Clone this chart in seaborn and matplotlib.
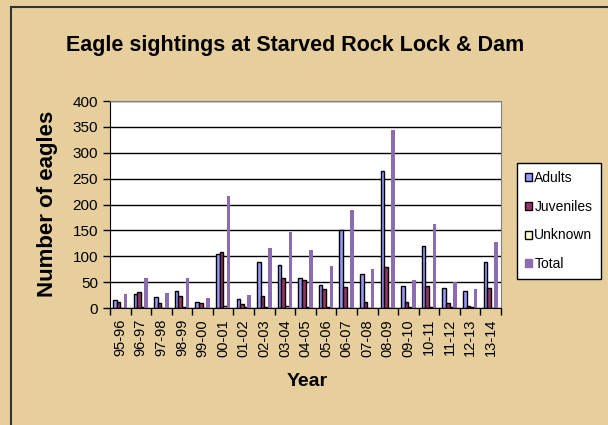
import numpy as np
import pandas as pd
import seaborn as sns
import matplotlib.pyplot as plt
from matplotlib.patches import Patch
from matplotlib.lines import Line2D

# --------------------------------------------------
# DATA
# --------------------------------------------------
years = ['95-96', '96-97', '97-98', '98-99', '99-00', '00-01', '01-02',
         '02-03', '03-04', '04-05', '05-06', '06-07', '07-08', '08-09',
         '09-10', '10-11', '11-12', '12-13', '13-14']
adults = [15, 28, 21, 33, 12, 104, 17, 89, 84, 58, 44, 150, 66, 265, 42, 120, 39, 32, 89]
juveniles = [11, 30, 10, 24, 10, 109, 7, 24, 58, 55, 37, 40, 12, 80, 12, 42, 10, 4, 39]
unknown = [0, 1, 0, 1, 0, 4, 2, 2, 4, 1, 1, 0, 0, 0, 1, 1, 1, 1, 0]
total = [27, 58, 29, 58, 20, 217, 26, 116, 146, 112, 82, 190, 76, 343, 55, 163, 50, 37, 127]

series = ['Adults', 'Juveniles', 'Unknown', 'Total']
colors = {'Adults': '#9999FF', 'Juveniles': '#993366',
          'Unknown': '#FFFFCC', 'Total': '#8C6BB1'}
y_ticks = [0, 50, 100, 150, 200, 250, 300, 350, 400]

df = pd.DataFrame({'Year': years, 'Adults': adults, 'Juveniles': juveniles,
                   'Unknown': unknown, 'Total': total})
long_df = df.melt(id_vars='Year', var_name='Series', value_name='Eagles')

# --------------------------------------------------
# PLOT
# --------------------------------------------------
plt.rcParams['font.family'] = ['Liberation Sans', 'DejaVu Sans']
bg = '#E6CF9C'

fig = plt.figure(figsize=(6.08, 4.25), dpi=100, facecolor=bg)
ax = fig.add_axes([110 / 608, 1 - 308 / 425, 391 / 608, 207 / 425])
ax.set_facecolor('white')

sns.barplot(data=long_df, x='Year', y='Eagles', hue='Series', order=years,
            hue_order=series, palette=colors, saturation=1, width=0.7,
            errorbar=None, ax=ax, legend=False)

for container, name in zip(ax.containers, series):
    for bar in container:
        if name == 'Total':
            bar.set_edgecolor('none')
        else:
            bar.set_edgecolor('black')
            bar.set_linewidth(1.0)

ax.set_ylim(0, 400)
ax.set_xlim(-0.5, len(years) - 0.5)
ax.set_yticks(y_ticks)
ax.set_yticklabels([str(v) for v in y_ticks], fontsize=11)
ax.yaxis.grid(True, color='black', linewidth=1)
ax.set_axisbelow(True)

# ticks between categories, labels at the centres
ax.set_xticks(np.arange(-0.5, len(years), 1))
ax.set_xticklabels([])
ax.set_xticks(np.arange(len(years)), minor=True)
ax.set_xticklabels(years, minor=True, rotation=90, fontsize=10.5)
ax.tick_params(axis='x', which='minor', length=0, pad=8)
ax.tick_params(axis='both', which='major', length=5, width=1, color='black')

for side in ['top', 'right']:
    ax.spines[side].set_color('#808080')
for side in ['left', 'bottom']:
    ax.spines[side].set_color('black')

ax.set_xlabel('')
ax.set_ylabel('')
fig.text(307 / 608, 1 - 382 / 425, 'Year', fontsize=14, fontweight='bold',
         ha='center', va='center')
fig.text(48 / 608, 1 - 204 / 425, 'Number of eagles', fontsize=16,
         fontweight='bold', rotation=90, ha='center', va='center')
fig.text(295 / 608, 1 - 45 / 425, 'Eagle sightings at Starved Rock Lock & Dam',
         fontsize=15.5, fontweight='bold', ha='center', va='center')

handles = [Patch(facecolor=colors[s], edgecolor='black' if s != 'Total' else colors[s],
                 linewidth=1) for s in series]
leg = fig.legend(handles, series, loc='upper left',
                 bbox_to_anchor=(517 / 608, 1 - 163 / 425),
                 bbox_transform=fig.transFigure, fontsize=10, frameon=True,
                 fancybox=False, edgecolor='black', framealpha=1,
                 handlelength=0.5, handleheight=0.5, handletextpad=0.15,
                 labelspacing=1.05, borderpad=0.6, borderaxespad=0)
leg.get_frame().set_linewidth(1)

# frame lines of the slide
fig.add_artist(Line2D([11 / 608, 11 / 608], [0, 1 - 7 / 425], color='#333333', lw=1.5))
fig.add_artist(Line2D([11 / 608, 1], [1 - 7 / 425, 1 - 7 / 425], color='#333333', lw=1.5))

fig.savefig('out.png', dpi=100, facecolor=bg)
